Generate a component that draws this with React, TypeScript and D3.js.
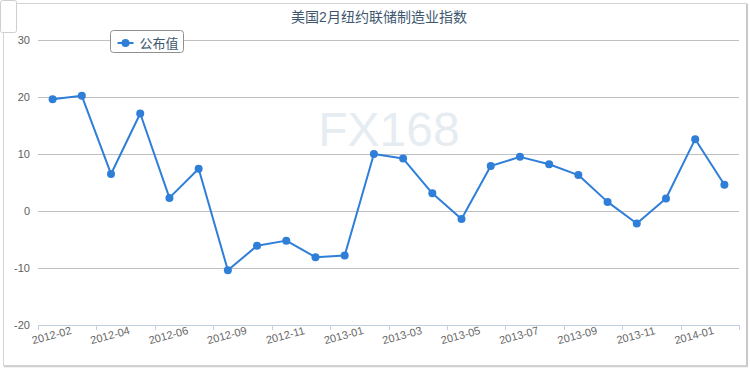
import React, { useEffect, useRef } from 'react';
import * as d3 from 'd3';

const months = [
  '2012-02', '2012-03', '2012-04', '2012-05', '2012-06', '2012-08',
  '2012-09', '2012-10', '2012-11', '2012-12', '2013-01', '2013-02',
  '2013-03', '2013-04', '2013-05', '2013-06', '2013-07', '2013-08',
  '2013-09', '2013-10', '2013-11', '2013-12', '2014-01', '2014-02',
];
const published = [
  19.6, 20.2, 6.5, 17.1, 2.3, 7.4,
  -10.4, -6.1, -5.2, -8.1, -7.8, 10.0,
  9.2, 3.1, -1.4, 7.9, 9.5, 8.2,
  6.3, 1.6, -2.2, 2.2, 12.6, 4.6,
];
const yTicks = [-20, -10, 0, 10, 20, 30];
const title = '美国2月纽约联储制造业指数';
const seriesName = '公布值';

const W = 750;
const H = 370;

export default function App() {
  const svgRef = useRef<SVGSVGElement>(null);

  useEffect(() => {
    if (!svgRef.current) return;
    const svg = d3.select(svgRef.current);
    svg.selectAll('*').remove();

    const font = 'Arial, "Liberation Sans", "Noto Sans CJK SC", sans-serif';
    const left = 38, right = 739, top = 40, bottom = 325;
    const blue = '#2f7ed8';

    // frame
    svg.append('rect').attr('x', 3.5).attr('y', 3.5).attr('width', 743).attr('height', 362)
      .attr('fill', '#fff').attr('stroke', '#d4d4d4');
    svg.append('line').attr('x1', 747).attr('x2', 747).attr('y1', 4).attr('y2', 367)
      .attr('stroke', '#c8c8c8').attr('stroke-width', 2);
    svg.append('line').attr('x1', 4).attr('x2', 748).attr('y1', 366.5).attr('y2', 366.5)
      .attr('stroke', '#cfcfcf').attr('stroke-width', 1.5);
    svg.append('rect').attr('x', 0.5).attr('y', 0.5).attr('width', 16).attr('height', 32).attr('rx', 2)
      .attr('fill', '#fff').attr('stroke', '#cfcfcf');

    const x = d3.scaleBand<string>().domain(months).range([left, right]);
    const y = d3.scaleLinear().domain([-20, 30]).range([bottom, top]);

    // watermark
    svg.append('text').attr('x', 389).attr('y', 146).attr('text-anchor', 'middle')
      .attr('font-family', font).attr('font-size', 48).attr('fill', '#e6edf2').text('FX168');

    // title
    svg.append('text').attr('x', 379).attr('y', 22).attr('text-anchor', 'middle')
      .attr('font-family', font).attr('font-size', 14).attr('fill', '#3e576f').text(title);

    // grid
    const grid = svg.append('g');
    yTicks.filter(t => t !== -20).forEach(t => {
      grid.append('line').attr('x1', left).attr('x2', right)
        .attr('y1', Math.round(y(t)) + 0.5).attr('y2', Math.round(y(t)) + 0.5)
        .attr('stroke', '#c0c0c0');
    });
    yTicks.forEach(t => {
      grid.append('text').attr('x', 30).attr('y', y(t) + 4).attr('text-anchor', 'end')
        .attr('font-family', font).attr('font-size', 11).attr('fill', '#606060').text(t);
    });

    // x axis
    const xa = svg.append('g');
    xa.append('line').attr('x1', left).attr('x2', right).attr('y1', bottom + 0.5).attr('y2', bottom + 0.5)
      .attr('stroke', '#c0d0e0');
    months.forEach((m, i) => {
      if (i % 2 !== 0) return;
      const tx = Math.round(x(m)!) + 0.5;
      xa.append('line').attr('x1', tx).attr('x2', tx).attr('y1', bottom).attr('y2', bottom + 5)
        .attr('stroke', '#c0d0e0');
    });
    xa.append('line').attr('x1', right + 0.5).attr('x2', right + 0.5).attr('y1', bottom).attr('y2', bottom + 5)
      .attr('stroke', '#c0d0e0');
    months.forEach((m, i) => {
      if (i % 2 !== 0) return;
      const cx = x(m)! + x.bandwidth() / 2;
      xa.append('text').attr('transform', `translate(${cx},${bottom + 14}) rotate(-15)`)
        .attr('text-anchor', 'middle').attr('font-family', font).attr('font-size', 11)
        .attr('fill', '#666').text(m);
    });

    // series
    const pts = months.map((m, i) => ({ m, v: published[i] }));
    const line = d3.line<{ m: string; v: number }>()
      .x(d => x(d.m)! + x.bandwidth() / 2)
      .y(d => y(d.v));
    svg.append('path').datum(pts).attr('fill', 'none').attr('stroke', blue)
      .attr('stroke-width', 2).attr('stroke-linejoin', 'round').attr('d', line);
    svg.selectAll('.dot').data(pts).enter().append('circle')
      .attr('cx', d => x(d.m)! + x.bandwidth() / 2).attr('cy', d => y(d.v))
      .attr('r', 4).attr('fill', blue);

    // legend
    const lg = svg.append('g').attr('transform', 'translate(110.5,30.5)');
    lg.append('rect').attr('width', 73).attr('height', 22).attr('rx', 3)
      .attr('fill', '#fff').attr('stroke', '#909090');
    lg.append('line').attr('x1', 7).attr('x2', 23).attr('y1', 12.5).attr('y2', 12.5)
      .attr('stroke', blue).attr('stroke-width', 2);
    lg.append('circle').attr('cx', 15).attr('cy', 12.5).attr('r', 4).attr('fill', blue);
    lg.append('text').attr('x', 29).attr('y', 17).attr('font-family', font).attr('font-size', 13)
      .attr('fill', '#3e576f').text(seriesName);
  }, []);

  return (
    <div style={{ position: 'fixed', left: 0, top: 0 }}>
      <svg ref={svgRef} width={W} height={H} style={{ display: 'block' }} />
    </div>
  );
}
